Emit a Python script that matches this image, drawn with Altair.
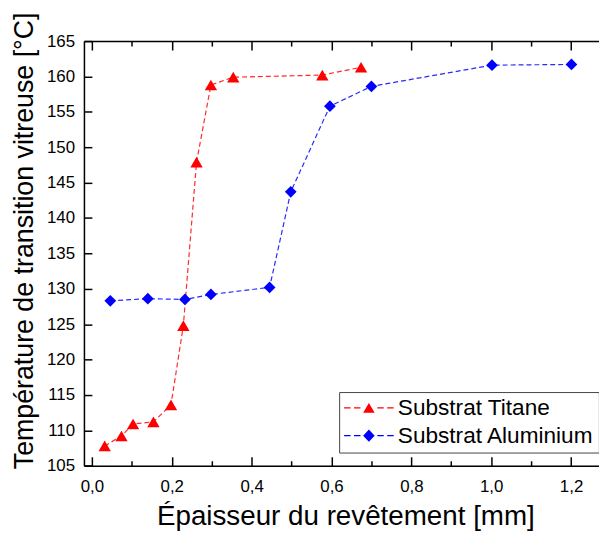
import altair as alt
import pandas as pd

# ---- data ----
series = ["Substrat Titane", "Substrat Aluminium"]
colors = ["#ff0000", "#0000ff"]

ti_x = [0.032, 0.074, 0.103, 0.154, 0.198, 0.229, 0.262, 0.298, 0.354, 0.577, 0.674]
ti_y = [107.8, 109.2, 110.9, 111.2, 113.6, 124.8, 147.9, 158.8, 159.9, 160.2, 161.3]

al_x = [0.046, 0.140, 0.233, 0.298, 0.445, 0.498, 0.596, 0.700, 1.002, 1.201]
al_y = [128.3, 128.6, 128.5, 129.2, 130.2, 143.7, 155.8, 158.6, 161.6, 161.7]

x_major = [0.0, 0.2, 0.4, 0.6, 0.8, 1.0, 1.2]
x_minor = [0.1, 0.3, 0.5, 0.7, 0.9, 1.1]
y_major = [105, 110, 115, 120, 125, 130, 135, 140, 145, 150, 155, 160, 165]

x_title = "Épaisseur du revêtement [mm]"
y_title = "Température de transition vitreuse [°C]"

FONT = "Liberation Sans"

rows = []
for i, (a, b) in enumerate(zip(ti_x, ti_y)):
    rows.append({"x": a, "y": b, "series": series[0], "o": i})
for i, (a, b) in enumerate(zip(al_x, al_y)):
    rows.append({"x": a, "y": b, "series": series[1], "o": i})
df = pd.DataFrame(rows)

xscale = alt.Scale(domain=[-0.02, 1.27], nice=False, zero=False)
yscale = alt.Scale(domain=[105, 165], nice=False, zero=False)

TICK = dict(tickColor="black", tickWidth=1.5, grid=False, labelFlush=False, labelOverlap=False)
NOLAB = dict(labels=False, title=None)

# ---- axes ----
ax_bottom_major = alt.Axis(orient="bottom", values=x_major, tickSize=9, offset=-9, domain=False,
                           labelExpr="replace(format(datum.value, '.1f'), '.', ',')",
                           labelFont=FONT, labelFontSize=17, labelColor="black", labelPadding=13,
                           title=x_title, titleFont=FONT, titleFontSize=28, titleFontWeight="normal",
                           titleColor="black", titlePadding=8, titleX=263.7, **TICK)
ax_bottom_minor = alt.Axis(orient="bottom", values=x_minor, tickSize=5, offset=-5, domain=False, **NOLAB, **TICK)
ax_top_major = alt.Axis(orient="top", values=x_major, tickSize=9, offset=-9, domain=False, **NOLAB, **TICK)
ax_top_minor = alt.Axis(orient="top", values=x_minor, tickSize=5, offset=-5, domain=False, **NOLAB, **TICK)
ax_bottom_dom = alt.Axis(orient="bottom", ticks=False, domain=True, domainColor="black", domainWidth=1.5,
                         grid=False, **NOLAB)
ax_top_dom = alt.Axis(orient="top", ticks=False, domain=True, domainColor="black", domainWidth=1.5,
                      grid=False, **NOLAB)

ax_left_major = alt.Axis(orient="left", values=y_major, tickSize=8, offset=-8, domain=False,
                         labelFont=FONT, labelFontSize=17, labelColor="black", labelPadding=9.5,
                         title=y_title, titleFont=FONT, titleFontSize=27, titleFontWeight="normal",
                         titleColor="black", titlePadding=8, titleY=201, **TICK)
ax_left_dom = alt.Axis(orient="left", ticks=False, domain=True, domainColor="black", domainWidth=1.5,
                       grid=False, **NOLAB)

base = alt.Chart(df)

def line(s, color, xaxis, yaxis):
    return base.transform_filter(alt.datum.series == s).mark_line(
        color=color, strokeWidth=1.2, strokeDash=[5, 3]
    ).encode(
        x=alt.X("x:Q", scale=xscale, axis=xaxis),
        y=alt.Y("y:Q", scale=yscale, axis=yaxis),
        order="o:Q",
    )

def pts(s, color, shape, size, xaxis):
    return base.transform_filter(alt.datum.series == s).mark_point(
        filled=True, color=color, shape=shape, size=size, opacity=1, strokeWidth=0
    ).encode(
        x=alt.X("x:Q", scale=xscale, axis=xaxis),
        y=alt.Y("y:Q", scale=yscale, axis=None),
    )

# ---- legend symbols: dashed line with marker (symbol units: 1 unit = 10 px) ----
def bar(a, b, t=0.065):
    return f"M{a},{-t}L{b},{-t}L{b},{t}L{a},{t}Z"

dash_parts = "".join(bar(a, b) for a, b in [(-2.5, -1.85), (-1.5, -0.85), (0.85, 1.5), (1.85, 2.5)])
sym_ti = dash_parts + "M0,-0.5L0.58,0.48L-0.58,0.48Z"
sym_al = dash_parts + "M0,-0.62L0.58,0L0,0.62L-0.58,0Z"

leg = alt.Legend(orient="none", legendX=257.4, legendY=354, title=None,
                 labelFont=FONT, labelFontSize=22.8, labelColor="black", labelLimit=0,
                 symbolOffset=14, labelOffset=17.8,
                 padding=4.6, rowPadding=4, strokeColor="#444444", fillColor="white",
                 symbolSize=400, symbolStrokeWidth=0, symbolOpacity=1)

legend_layer = base.transform_filter("false").mark_point(filled=True, size=400, opacity=1, strokeWidth=0).encode(
    x=alt.X("x:Q", scale=xscale, axis=ax_bottom_dom),
    y=alt.Y("y:Q", scale=yscale, axis=None),
    color=alt.Color("series:N", scale=alt.Scale(domain=series, range=colors), legend=leg),
    shape=alt.Shape("series:N", scale=alt.Scale(domain=series, range=[sym_ti, sym_al]), legend=leg),
)

top_dom_layer = base.transform_filter("false").mark_point().encode(
    x=alt.X("x:Q", scale=xscale, axis=ax_top_dom),
    y=alt.Y("y:Q", scale=yscale, axis=None),
)

chart = alt.layer(
    line(series[0], "#ff2a2a", ax_bottom_major, ax_left_major),
    pts(series[0], "#ff0000", "triangle-up", 155, ax_top_major),
    line(series[1], "#2a2aff", ax_bottom_minor, ax_left_dom),
    pts(series[1], "#0000ff", "diamond", 140, ax_top_minor),
    legend_layer,
    top_dom_layer,
).resolve_axis(x="independent", y="independent").properties(
    width=519.5, height=428.3,
    autosize=alt.AutoSizeParams(type="none"),
    padding={"left": 76.6, "top": 31.1, "right": 0, "bottom": 70},
).configure_view(stroke=None).configure(background="white")

chart.save("out.html", embed_options={"renderer": "svg", "actions": False})
